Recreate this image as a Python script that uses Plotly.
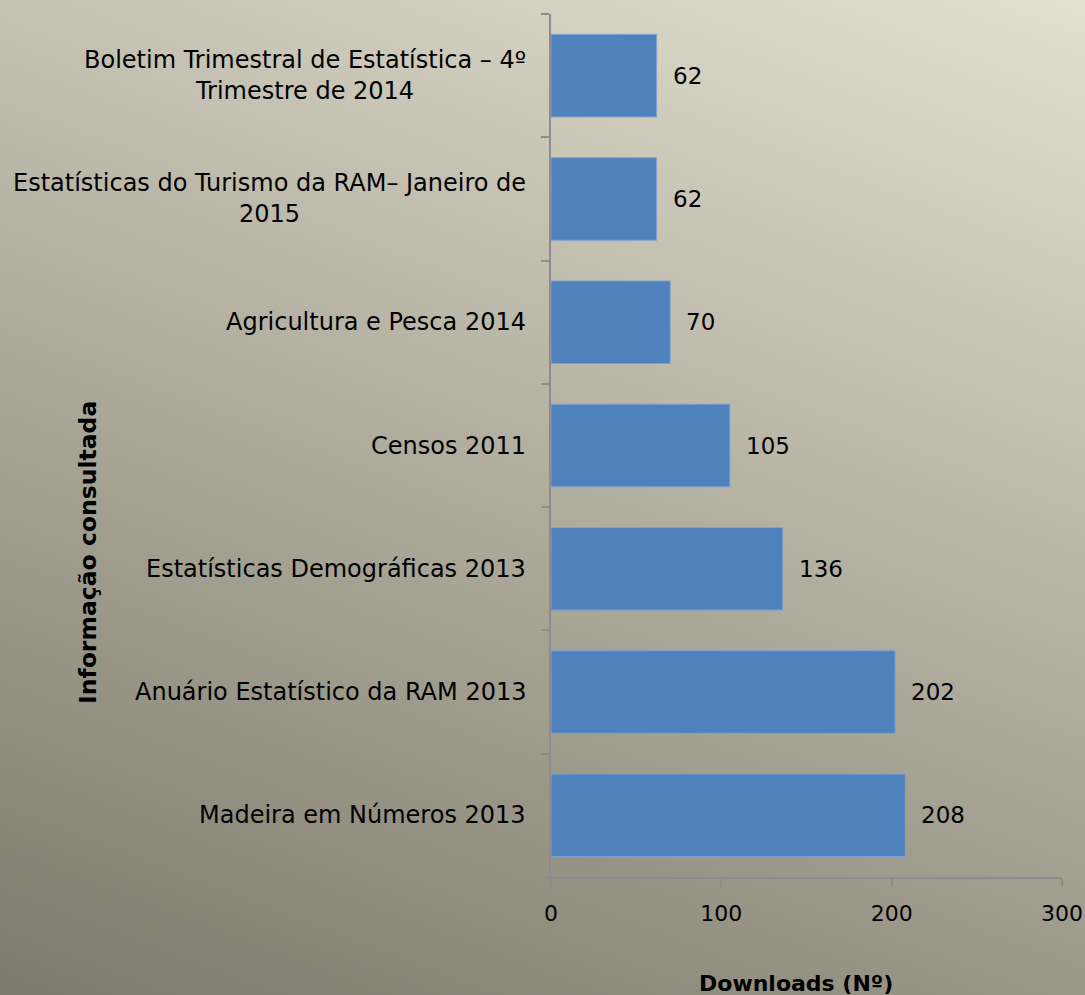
import base64
import plotly.graph_objects as go

# Dados: downloads por publicação (de baixo para cima)
categorias = [
    "Madeira em Números 2013",
    "Anuário Estatístico da RAM 2013",
    "Estatísticas Demográficas 2013",
    "Censos 2011",
    "Agricultura e Pesca 2014",
    "Estatísticas do Turismo da RAM– Janeiro de<br>2015",
    "Boletim Trimestral de Estatística – 4º<br>Trimestre de 2014",
]
downloads = [208, 202, 136, 105, 70, 62, 62]
x_ticks = [0, 100, 200, 300]

W, H = 1085, 995
ML, MR, MT, MB = 551, 23, 14, 118
PW, PH = W - ML - MR, H - MT - MB
FONT = "DejaVu Sans, Tahoma, sans-serif"

# Fundo em degradê (claro em cima à direita, escuro em baixo à esquerda)
svg = (
    '<svg xmlns="http://www.w3.org/2000/svg" width="1085" height="995" preserveAspectRatio="none">'
    '<defs><linearGradient id="g" x1="1" y1="0" x2="0.5" y2="1.207">'
    '<stop offset="0" stop-color="#E3E0D0"/><stop offset="1" stop-color="#7D7A6D"/>'
    '</linearGradient></defs><rect width="1085" height="995" fill="url(#g)"/></svg>'
)
bg = "data:image/svg+xml;base64," + base64.b64encode(svg.encode()).decode()

fig = go.Figure(go.Bar(
    x=downloads, y=categorias, orientation="h",
    marker=dict(color="#4F81BD", line=dict(color="#7FA2D2", width=1)),
    width=0.67, hoverinfo="x+y",
))

annotations = []
# Rótulos das categorias (centrados, alinhados à direita do eixo)
for c in categorias:
    annotations.append(dict(
        x=0, xref="paper", y=c, yref="y", text=c, showarrow=False,
        xanchor="right", xshift=-23, align="center",
        font=dict(family=FONT, size=24, color="black"),
    ))
# Valores das barras
for v, c in zip(downloads, categorias):
    annotations.append(dict(
        x=v, y=c, xref="x", yref="y", text=str(v), showarrow=False,
        xanchor="left", xshift=14,
        font=dict(family=FONT, size=23, color="black"),
    ))
# Títulos dos eixos
annotations.append(dict(
    x=(796 - ML) / PW, y=-(983 - (H - MB)) / PH, xref="paper", yref="paper",
    text="<b>Downloads (Nº)</b>", showarrow=False, xanchor="center", yanchor="middle",
    font=dict(family=FONT, size=22, color="black"),
))
annotations.append(dict(
    x=(88 - ML) / PW, y=1 - (553 - MT) / PH, xref="paper", yref="paper",
    text="<b>Informação consultada</b>", showarrow=False, textangle=-90,
    xanchor="center", yanchor="middle",
    font=dict(family=FONT, size=23.5, color="black"),
))

fig.update_layout(
    width=W, height=H,
    margin=dict(l=ML, r=MR, t=MT, b=MB, autoexpand=False),
    paper_bgcolor="#B0AD9E", plot_bgcolor="rgba(0,0,0,0)",
    showlegend=False,
    font=dict(family=FONT, size=22, color="black"),
    annotations=annotations,
    images=[dict(
        source=bg, xref="paper", yref="paper",
        x=-ML / PW, y=1 + MT / PH, sizex=W / PW, sizey=H / PH,
        xanchor="left", yanchor="top", sizing="stretch", layer="below",
    )],
    xaxis=dict(
        range=[0, 300], tickvals=x_ticks, ticks="outside", ticklen=8,
        tickcolor="#8C8C8C", tickwidth=2, showline=True, linecolor="#8C8C8C",
        linewidth=2, showgrid=False, zeroline=False, ticklabelstandoff=8,
        automargin=False,
        tickfont=dict(family=FONT, size=22, color="black"),
    ),
    yaxis=dict(
        categoryorder="array", categoryarray=categorias,
        showticklabels=False, ticks="outside", tickson="boundaries",
        ticklen=8, tickcolor="#8C8C8C", tickwidth=2, automargin=False,
        showline=True, linecolor="#8C8C8C", linewidth=2, showgrid=False,
    ),
)

fig.write_html(
    "out.html",
    config={"displayModeBar": False},
    post_script="document.body.style.margin='0';document.body.style.overflow='hidden';",
)
